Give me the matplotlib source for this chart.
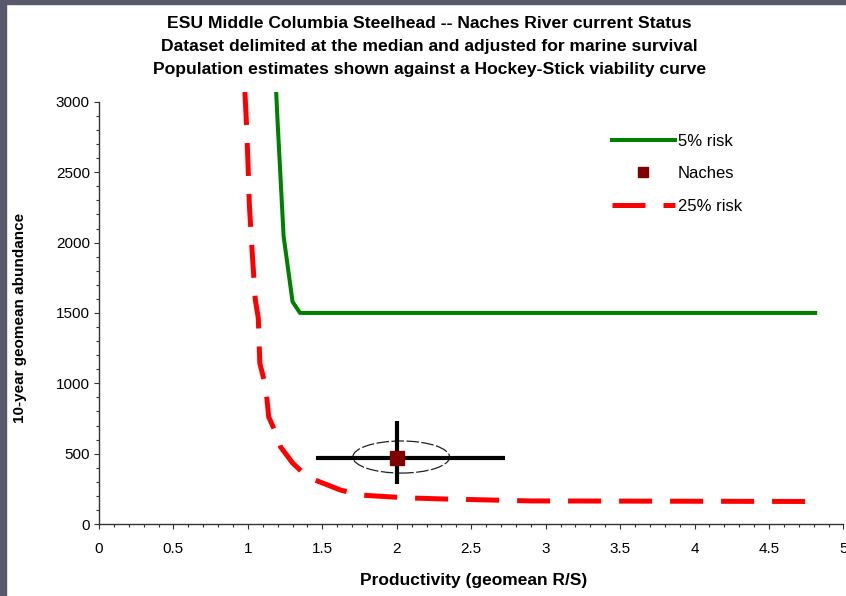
import matplotlib.pyplot as plt
from matplotlib.patches import Ellipse, Rectangle
from matplotlib.ticker import MultipleLocator, FuncFormatter

plt.rcParams['font.family'] = ['Liberation Sans', 'DejaVu Sans']

# viability curves (productivity vs abundance)
risk5_x = [1.19, 1.20, 1.24, 1.30, 1.35, 4.81]
risk5_y = [3070, 2850, 2045, 1580, 1500, 1500]

risk25_x = [0.98, 0.99, 1.00, 1.01, 1.03, 1.05, 1.07, 1.08, 1.12, 1.14, 1.20,
            1.22, 1.30, 1.40, 1.62, 1.75, 1.97, 2.09, 2.31, 2.90, 4.80]
risk25_y = [3070, 2858, 2588, 2268, 1913, 1592, 1464, 1144, 974, 761, 618,
            547, 434, 334, 242, 206, 192, 185, 178, 164, 160]

# Naches population estimate with asymmetric error bars
naches_x = 2.0
naches_y = 470
naches_xerr = [[0.54], [0.73]]
naches_yerr = [[185], [265]]

title_lines = ['ESU Middle Columbia Steelhead -- Naches River current Status',
               'Dataset delimited at the median and adjusted for marine survival',
               'Population estimates shown against a Hockey-Stick viability curve']

fig = plt.figure(figsize=(8.46, 5.96), dpi=100)
ax = fig.add_axes([0.117, 0.1208, 0.880, 0.7248])

# grey frame on the left and top edges
fig.patches.append(Rectangle((0, 0), 6 / 846, 1, transform=fig.transFigure,
                             color='#585a6c', zorder=0))
fig.patches.append(Rectangle((0, 1 - 4 / 596), 1, 4 / 596, transform=fig.transFigure,
                             color='#585a6c', zorder=0))

g, = ax.plot(risk5_x, risk5_y, color='#008000', lw=2.9, label='5% risk')
r, = ax.plot(risk25_x, risk25_y, color='#ff0000', lw=3.6, label='25% risk')
r.set_dashes((6.6, 3.6))

ax.add_patch(Ellipse((2.03, 476), 0.65, 228, fill=False, ec='#222222', lw=0.9,
                     ls=(0, (10, 2)), zorder=3))
ax.errorbar([naches_x], [naches_y], xerr=naches_xerr, yerr=naches_yerr, fmt='none',
            ecolor='black', elinewidth=3, capsize=0, zorder=4)
n, = ax.plot([naches_x], [naches_y], 's', color='#800000', ms=9.5, zorder=5,
             label='Naches')

ax.set_xlim(0, 5)
ax.set_ylim(0, 3070)
ax.set_yticks(range(0, 3001, 500))
ax.xaxis.set_major_locator(MultipleLocator(0.5))
ax.xaxis.set_minor_locator(MultipleLocator(0.1))
ax.yaxis.set_minor_locator(MultipleLocator(100))
ax.xaxis.set_major_formatter(FuncFormatter(lambda v, p: '%g' % v))
ax.spines['top'].set_visible(False)
ax.spines['right'].set_visible(False)
ax.spines['left'].set_bounds(0, 3000)
for s in ['left', 'bottom']:
    ax.spines[s].set_linewidth(1.0)
    ax.spines[s].set_color('#333333')
ax.tick_params(which='major', length=3.6, width=0.8, color='#333333', labelsize=11)
ax.tick_params(which='minor', length=2.5, width=0.8, color='#333333')
ax.tick_params(axis='x', which='major', pad=9)
ax.tick_params(axis='y', which='major', pad=3)

ax.legend(handles=[g, n, r], loc='upper left', bbox_to_anchor=(0.669, 0.938),
          frameon=False, fontsize=12, handlelength=3.75, handletextpad=0.2,
          labelspacing=1.05, markerscale=0.7)

for i, t in enumerate(title_lines):
    fig.text(0.508, 1 - (23.5 + 23 * i) / 596, t, ha='center', va='center',
             fontsize=12.6, fontweight='bold')
fig.text(474 / 846, 1 - 580 / 596, 'Productivity (geomean R/S)', ha='center',
         va='center', fontsize=12.5, fontweight='bold')
fig.text(20.5 / 846, 0.466, '10-year geomean abundance', ha='center', va='center',
         rotation=90, fontsize=11, fontweight='bold')

fig.savefig('out.png', dpi=100)
